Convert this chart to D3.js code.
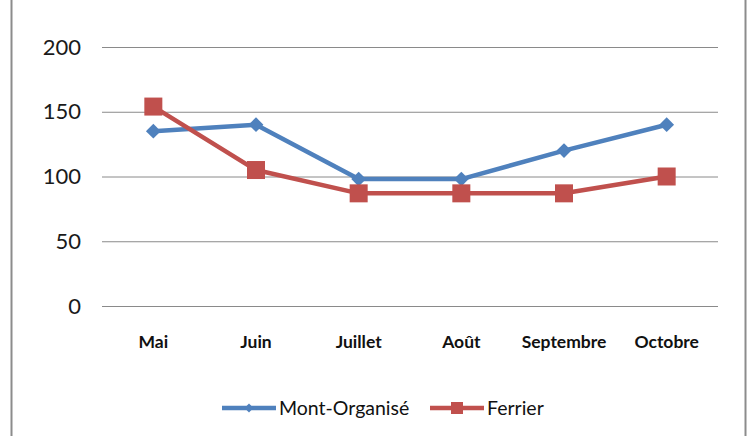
<!DOCTYPE html>
<html><head><meta charset="utf-8">
<script src="https://cdn.jsdelivr.net/npm/d3@7/dist/d3.min.js"></script>
<style>body{margin:0;background:#fff}svg{display:block}text{font-family:Lato,"Open Sans",sans-serif}</style>
</head><body><svg id="c" width="748" height="436"></svg>
<script>
const categories = ["Mai","Juin","Juillet","Août","Septembre","Octobre"];
const montOrganise = [135,140,98,98,120,140];
const ferrier = [154,105,87,87,87,100];
const yTicks = [0,50,100,150,200];
const seriesNames = ["Mont-Organisé","Ferrier"];

const svg = d3.select("#c");
svg.append("rect").attr("x",11.5).attr("y",-5).attr("width",734).attr("height",450)
  .attr("fill","#fff").attr("stroke","#8c8c8c").attr("stroke-width",2);

const x = d3.scaleBand().domain(categories).range([102,718]);
const y = d3.scaleLinear().domain([0,200]).range([306,47]);

const grid = svg.append("g");
grid.selectAll("line").data(yTicks).join("line")
  .attr("x1",102).attr("x2",718).attr("y1",d=>y(d)+0.5).attr("y2",d=>y(d)+0.5)
  .attr("stroke","#8a8a8a").attr("stroke-width",1);

const yAxis = svg.append("g").attr("transform","translate(81,0)")
  .call(d3.axisLeft(y).tickValues(yTicks).tickSize(0).tickPadding(0));
yAxis.select(".domain").remove();
yAxis.selectAll("text").attr("font-size",22).attr("fill","#1a1a1a").attr("font-family","Lato");

const xAxis = svg.append("g").attr("transform","translate(0,336)")
  .call(d3.axisBottom(x).tickSize(0).tickPadding(0));
xAxis.select(".domain").remove();
xAxis.selectAll("text").attr("font-size",17.5).attr("font-weight","bold").attr("fill","#111").attr("font-family","Lato");

const cx = d => x(d) + x.bandwidth()/2;
const line = d3.line().x((d,i)=>cx(categories[i])).y(d=>y(d));
const colors = ["#4f81bd","#c0504d"];
const data = [montOrganise, ferrier];

data.forEach((vals,k)=>{
  svg.append("path").datum(vals).attr("d",line).attr("fill","none")
    .attr("stroke",colors[k]).attr("stroke-width",4.5).attr("stroke-linejoin","round");
});
const diamond = d3.symbol().type(d3.symbolDiamond2).size(140);
svg.append("g").selectAll("path").data(montOrganise).join("path")
  .attr("d",diamond()).attr("fill",colors[0])
  .attr("transform",(d,i)=>`translate(${cx(categories[i])},${y(d)})`);
svg.append("g").selectAll("rect").data(ferrier).join("rect")
  .attr("x",(d,i)=>cx(categories[i])-9).attr("y",d=>y(d)-9).attr("width",18).attr("height",18)
  .attr("fill",colors[1]);

// legend
const legX = [222,430];
seriesNames.forEach((n,k)=>{
  const g = svg.append("g").attr("transform",`translate(${legX[k]},408)`);
  g.append("line").attr("x1",0).attr("x2",54).attr("stroke",colors[k]).attr("stroke-width",4.5);
  if(k===0) g.append("path").attr("d",d3.symbol().type(d3.symbolDiamond2).size(50)()).attr("transform","translate(27,0)").attr("fill",colors[0]);
  else g.append("rect").attr("x",21).attr("y",-6).attr("width",12).attr("height",12).attr("fill",colors[1]);
  g.append("text").attr("x",57).attr("dy","0.35em").attr("font-size",19.5).attr("fill","#111").text(n);
});
</script></body></html>
